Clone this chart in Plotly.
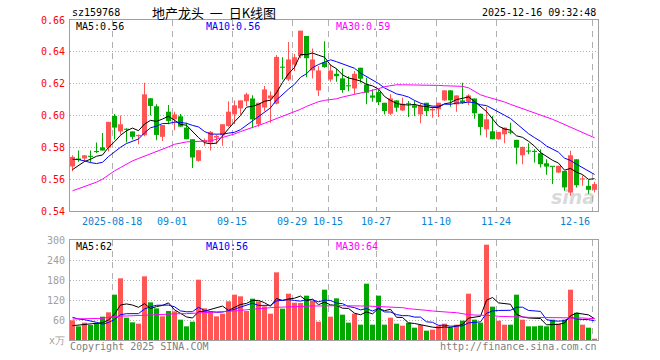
import plotly.graph_objects as go
import pandas as pd

# ---------------- data ----------------
dates = [
    "2025-08-07", "2025-08-08", "2025-08-11", "2025-08-12", "2025-08-13", "2025-08-14", "2025-08-15",
    "2025-08-18", "2025-08-19", "2025-08-20", "2025-08-21", "2025-08-22",
    "2025-08-25", "2025-08-26", "2025-08-27", "2025-08-28", "2025-08-29",
    "2025-09-01", "2025-09-02", "2025-09-03", "2025-09-04", "2025-09-05",
    "2025-09-08", "2025-09-09", "2025-09-10", "2025-09-11", "2025-09-12",
    "2025-09-15", "2025-09-16", "2025-09-17", "2025-09-18", "2025-09-19",
    "2025-09-22", "2025-09-23", "2025-09-24", "2025-09-25", "2025-09-26",
    "2025-09-29", "2025-09-30", "2025-10-09", "2025-10-10",
    "2025-10-13", "2025-10-14", "2025-10-15", "2025-10-16", "2025-10-17",
    "2025-10-20", "2025-10-21", "2025-10-22", "2025-10-23", "2025-10-24",
    "2025-10-27", "2025-10-28", "2025-10-29", "2025-10-30", "2025-10-31",
    "2025-11-03", "2025-11-04", "2025-11-05", "2025-11-06", "2025-11-07",
    "2025-11-10", "2025-11-11", "2025-11-12", "2025-11-13", "2025-11-14",
    "2025-11-17", "2025-11-18", "2025-11-19", "2025-11-20", "2025-11-21",
    "2025-11-24", "2025-11-25", "2025-11-26", "2025-11-27", "2025-11-28",
    "2025-12-01", "2025-12-02", "2025-12-03", "2025-12-04", "2025-12-05",
    "2025-12-08", "2025-12-09", "2025-12-10", "2025-12-11", "2025-12-12",
    "2025-12-15", "2025-12-16",
]

open_ = [
    0.568, 0.573, 0.573, 0.5745, 0.5775, 0.580, 0.5798, 0.5997, 0.590, 0.5915,
    0.590, 0.587, 0.5876, 0.6108, 0.6058, 0.5866, 0.6024, 0.5976, 0.5995, 0.5924,
    0.5851, 0.5715, 0.5833, 0.583, 0.5861, 0.5876, 0.5934, 0.6007, 0.6045, 0.609,
    0.6107, 0.5945, 0.605, 0.6107, 0.6074, 0.6302, 0.6226, 0.632, 0.6373, 0.650,
    0.6283, 0.6158, 0.6335, 0.6226, 0.6262, 0.6233, 0.6185, 0.617, 0.630, 0.6195,
    0.6126, 0.6147, 0.608, 0.6011, 0.6095, 0.6032, 0.6072, 0.6064, 0.6007, 0.608,
    0.6032, 0.6039, 0.6095, 0.6158, 0.607, 0.6095, 0.6087, 0.6107, 0.6011, 0.5913,
    0.5901, 0.5851, 0.5882, 0.5894, 0.5847, 0.575, 0.5775, 0.5772, 0.5763, 0.570,
    0.5678, 0.5642, 0.5652, 0.5516, 0.5725, 0.5598, 0.5558, 0.5533,
]
close = [
    0.574, 0.572, 0.575, 0.574, 0.577, 0.578, 0.596, 0.5924, 0.5945, 0.591,
    0.5866, 0.5878, 0.6133, 0.606, 0.5878, 0.594, 0.5966, 0.6007, 0.593, 0.5851,
    0.5736, 0.5782, 0.5846, 0.5897, 0.5872, 0.5945, 0.6024, 0.6064, 0.6095, 0.6133,
    0.5976, 0.608, 0.6164, 0.6126, 0.6368, 0.630, 0.6352, 0.6366, 0.6533, 0.636,
    0.6352, 0.6283, 0.6304, 0.6283, 0.6247, 0.616, 0.6183, 0.6262, 0.6231, 0.6143,
    0.6112, 0.6084, 0.6028, 0.6107, 0.6049, 0.6074, 0.607, 0.6049, 0.606, 0.6028,
    0.6041, 0.608, 0.6158, 0.6095, 0.6126, 0.608, 0.6126, 0.6014, 0.5928, 0.5976,
    0.5851, 0.5897, 0.5924, 0.5892, 0.5798, 0.5803, 0.5773, 0.5771, 0.5694, 0.5679,
    0.5677, 0.5684, 0.5548, 0.575, 0.5562, 0.5601, 0.5533, 0.5569,
]
high = [
    0.575, 0.578, 0.575, 0.578, 0.583, 0.589, 0.596, 0.601, 0.600, 0.592,
    0.590, 0.588, 0.6206, 0.611, 0.607, 0.594, 0.6066, 0.6024, 0.601, 0.5955,
    0.5851, 0.5782, 0.5856, 0.5903, 0.588, 0.5945, 0.609, 0.6095, 0.6095, 0.6143,
    0.6128, 0.608, 0.6185, 0.6153, 0.638, 0.6366, 0.6462, 0.6387, 0.6533, 0.650,
    0.6421, 0.631, 0.6467, 0.632, 0.6295, 0.6295, 0.6247, 0.6279, 0.630, 0.6237,
    0.6164, 0.616, 0.608, 0.6133, 0.6095, 0.6112, 0.6091, 0.6095, 0.6076, 0.608,
    0.6055, 0.608, 0.6158, 0.6158, 0.6126, 0.6206, 0.6133, 0.6107, 0.6011, 0.6055,
    0.5997, 0.5897, 0.5924, 0.5955, 0.5847, 0.5803, 0.5826, 0.5788, 0.5788, 0.5725,
    0.5677, 0.5684, 0.5652, 0.5778, 0.5725, 0.5625, 0.5594, 0.5583,
]
low = [
    0.565, 0.571, 0.571, 0.5705, 0.5765, 0.578, 0.5774, 0.585, 0.588, 0.583,
    0.585, 0.582, 0.587, 0.600, 0.5845, 0.584, 0.5945, 0.5907, 0.593, 0.5851,
    0.567, 0.571, 0.581, 0.578, 0.582, 0.581, 0.5928, 0.5945, 0.6007, 0.606,
    0.592, 0.593, 0.6028, 0.5955, 0.607, 0.6226, 0.6216, 0.628, 0.636, 0.6241,
    0.6233, 0.6122, 0.630, 0.6212, 0.6212, 0.6143, 0.6153, 0.6133, 0.6206, 0.607,
    0.6087, 0.6066, 0.6007, 0.6003, 0.6024, 0.6028, 0.5991, 0.5997, 0.5951, 0.5997,
    0.5986, 0.5991, 0.6091, 0.6055, 0.6024, 0.6074, 0.6066, 0.598, 0.5876, 0.5861,
    0.5851, 0.5847, 0.5826, 0.5882, 0.5694, 0.5694, 0.5757, 0.5704, 0.5673, 0.5627,
    0.5569, 0.5638, 0.5527, 0.5496, 0.5548, 0.5558, 0.5506, 0.5516,
]
volume = [
    59, 41, 52, 45, 51, 70, 83, 136, 185, 67,
    53, 49, 191, 113, 95, 71, 87, 86, 61, 41,
    55, 181, 95, 83, 71, 79, 116, 136, 131, 87,
    124, 116, 101, 79, 203, 94, 139, 112, 111, 133,
    118, 55, 151, 70, 125, 76, 52, 79, 46, 169,
    46, 133, 46, 67, 49, 43, 52, 37, 45, 28,
    31, 43, 49, 37, 46, 58, 139, 61, 52, 286,
    100, 58, 46, 46, 136, 61, 41, 41, 43, 41,
    61, 49, 61, 151, 82, 46, 37, 4,
]
# closes / volumes of the days just before the window (estimated from the MA lines)
prior_closes = [0.574, 0.583, 0.585, 0.583, 0.570, 0.560, 0.5615, 0.567, 0.5675]
prior_volumes = [91, 72, 75, 101, 126, 31, 47, 40, 38]

# 30-day averages
ma30 = [
    0.5527, 0.5540, 0.5552, 0.5567, 0.5581, 0.5600, 0.5627, 0.5652, 0.5673, 0.5694,
    0.5715, 0.5730, 0.5744, 0.5757, 0.5773, 0.5788, 0.5803, 0.5819, 0.5828, 0.5834,
    0.5836, 0.5836, 0.5838, 0.5840, 0.5851, 0.5861, 0.5874, 0.5884, 0.5899, 0.5911,
    0.5924, 0.5938, 0.5951, 0.5966, 0.5980, 0.5993, 0.6007, 0.6022, 0.6039, 0.6057,
    0.6074, 0.6087, 0.6095, 0.6101, 0.6105, 0.6116, 0.6126, 0.6133, 0.6141, 0.6149,
    0.6158, 0.6168, 0.6181, 0.6189, 0.6193, 0.6193, 0.6193, 0.6193, 0.6192, 0.6189,
    0.6189, 0.6189, 0.6187, 0.6187, 0.6185, 0.6183, 0.6174, 0.6150, 0.6130, 0.6118,
    0.6108, 0.6098, 0.6085, 0.6070, 0.6057, 0.6045, 0.6030, 0.6018, 0.6005, 0.5990,
    0.5976, 0.5960, 0.5943, 0.5928, 0.5912, 0.5895, 0.5876, 0.5860,
]
vol_ma30 = [
    63, 63, 63, 64, 64, 65, 68, 71, 72, 72,
    73, 74, 75, 76, 77, 78, 79, 79, 79, 79,
    80, 80, 81, 81, 82, 83, 85, 87, 89, 91,
    93, 95, 96, 97, 98, 99, 100, 100, 101, 101,
    102, 102, 103, 103, 103, 103, 102, 102, 102, 102,
    101, 101, 101, 100, 99, 97, 94, 93, 91, 89,
    87, 85, 84, 83, 82, 78, 76, 75, 75, 74,
    73, 71, 71, 70, 70, 69, 68, 68, 68, 67,
    67, 67, 66, 66, 66, 66, 65, 64,
]

tick_dates = ["2025-08-18", "2025-09-01", "2025-09-15", "2025-09-29", "2025-10-15",
              "2025-10-27", "2025-11-10", "2025-11-24", "2025-12-16"]
tick_labels = ["2025-08-18", "09-01", "09-15", "09-29", "10-15",
               "10-27", "11-10", "11-24", "12-16"]
price_ticks = [0.54, 0.56, 0.58, 0.60, 0.62, 0.64, 0.66]
volume_ticks = [0, 60, 120, 180, 240, 300]
volume_tick_text = ["x万", "60", "120", "180", "240", "300"]

code = "sz159768"
title = "地产龙头\u00a0\u00a0一\u00a0\u00a0日K线图"
stamp = "2025-12-16 09:32:48"
ma_price_labels = ["MA5:0.56", "MA10:0.56", "MA30:0.59"]
ma_volume_labels = ["MA5:62", "MA10:56", "MA30:64"]

# ---------------- derived ----------------
n = len(dates)
idx = list(range(n))


def rolling_mean(prior, values, w):
    s = pd.Series(list(prior) + list(values), dtype=float)
    return s.rolling(w).mean().iloc[len(prior):].tolist()


ma5 = rolling_mean(prior_closes, close, 5)
ma10 = rolling_mean(prior_closes, close, 10)
vma5 = rolling_mean(prior_volumes, volume, 5)
vma10 = rolling_mean(prior_volumes, volume, 10)

RED = "#ff5555"
GREEN = "#00a800"
GRID = "#b0b0b0"
BORDER = "#a0a0a0"
MONO = "DejaVu Sans Mono, Liberation Mono, monospace"

up = [c >= o for o, c in zip(open_, close)]

fig = go.Figure()


def pick(arr, mask):
    return [a for a, m in zip(arr, mask) if m]


for want, color in [(True, RED), (False, GREEN)]:
    mask = [u == want for u in up]
    xs = pick(idx, mask)
    o = pick(open_, mask)
    c = pick(close, mask)
    h = pick(high, mask)
    l = pick(low, mask)
    v = pick(volume, mask)
    fig.add_trace(go.Bar(x=xs, base=l, y=[hh - ll for hh, ll in zip(h, l)], width=1 / 6,
                         marker=dict(color=color, line=dict(width=0)),
                         xaxis="x", yaxis="y", hoverinfo="skip"))
    fig.add_trace(go.Bar(x=xs, base=[min(a, b) for a, b in zip(o, c)],
                         y=[max(abs(b - a), 0.0007) for a, b in zip(o, c)], width=5 / 6,
                         marker=dict(color=color, line=dict(width=0)),
                         xaxis="x", yaxis="y", hoverinfo="skip"))
    fig.add_trace(go.Bar(x=xs, y=v, width=5 / 6,
                         marker=dict(color=color, line=dict(width=0)),
                         xaxis="x2", yaxis="y2", hoverinfo="skip"))

for ys, color in [(ma5, "#000000"), (ma10, "#0000ff"), (ma30, "#ff00ff")]:
    fig.add_trace(go.Scatter(x=idx, y=ys, mode="lines", line=dict(color=color, width=1),
                             xaxis="x", yaxis="y", hoverinfo="skip"))
for ys, color in [(vma5, "#000000"), (vma10, "#0000ff"), (vol_ma30, "#ff00ff")]:
    fig.add_trace(go.Scatter(x=idx, y=ys, mode="lines", line=dict(color=color, width=1),
                             xaxis="x2", yaxis="y2", hoverinfo="skip"))

# plot area in pixels: x 70..598, y 20..340
L, R, T, B = 70, 598, 20, 340


def px(x):
    return (x - L) / (R - L)


def py(y):
    return (B - y) / (B - T)


grid_x = [dates.index(d) - 5 / 12 for d in tick_dates]
xr = [-5 / 12, n - 5 / 12]

axis_common = dict(showline=True, mirror=True, linecolor=BORDER, linewidth=1,
                   zeroline=False, ticks="", fixedrange=True)

fig.update_layout(
    width=660, height=360,
    margin=dict(l=L, r=660 - R, t=T, b=360 - B),
    paper_bgcolor="white", plot_bgcolor="white",
    showlegend=False, barmode="overlay",
    xaxis=dict(domain=[0, 1], range=xr, anchor="y", tickvals=grid_x, showticklabels=False,
               showgrid=True, gridcolor=GRID, gridwidth=1, griddash="6px,5px", **axis_common),
    yaxis=dict(domain=[py(211), 1], range=[0.54, 0.66], anchor="x", tickvals=price_ticks,
               ticktext=[f"{t:.2f}" for t in price_ticks],
               tickfont=dict(family=MONO, size=10, color="#ff0000"),
               showgrid=True, gridcolor=GRID, gridwidth=1, griddash="1px,2px",
               ticklabelstandoff=2, **axis_common),
    xaxis2=dict(domain=[0, 1], range=xr, anchor="y2", matches="x", tickvals=grid_x,
                showticklabels=False, showgrid=True, gridcolor=GRID, gridwidth=1,
                griddash="6px,5px", **axis_common),
    yaxis2=dict(domain=[0, py(240)], range=[0, 300], anchor="x2", tickvals=volume_ticks,
                ticktext=volume_tick_text,
                tickfont=dict(family=MONO, size=10, color="#a0a0a0"),
                showgrid=True, gridcolor=GRID, gridwidth=1, griddash="1px,2px",
                ticklabelstandoff=2, **axis_common),
)

ann = []


def text(x, y, s, color="#000000", size=10, xanchor="left", family=MONO, xref="paper"):
    ann.append(dict(x=x, y=py(y), xref=xref, yref="paper", text=s, showarrow=False,
                    xanchor=xanchor, yanchor="middle",
                    font=dict(family=family, size=size, color=color)))


text(px(70), 12, code)
text(px(214), 12, title, size=13, xanchor="center",
     family="Noto Sans CJK SC, sans-serif")
text(px(598), 12, stamp, xanchor="right")

for s, x0, col in zip(ma_price_labels, [74, 204, 334], ["#000000", "#0000ff", "#ff00ff"]):
    text(px(x0), 26, s, color=col)
for s, x0, col in zip(ma_volume_labels, [74, 204, 334], ["#000000", "#0000ff", "#ff00ff"]):
    text(px(x0), 246, s, color=col)

for d, lab in zip(tick_dates, tick_labels):
    gx = dates.index(d) - 5 / 12
    text(gx, 221, lab, color="#0a82d2", xanchor="right" if d == dates[-1] else "center", xref="x")

text(px(68), 346, "Copyright 2025 SINA.COM", color="#808080")
text(px(599), 346, "http://finance.sina.com.cn", color="#808080", xanchor="right")
text(px(597), 197, "<i><b>sina</b></i>", color="rgba(170,170,170,0.45)", size=19,
     xanchor="right", family="DejaVu Sans, sans-serif")

fig.update_layout(annotations=ann)

fig.write_html("out.html", config={"displayModeBar": False, "staticPlot": True},
               post_script="document.body.style.margin='0px';document.body.style.overflow='hidden';")
